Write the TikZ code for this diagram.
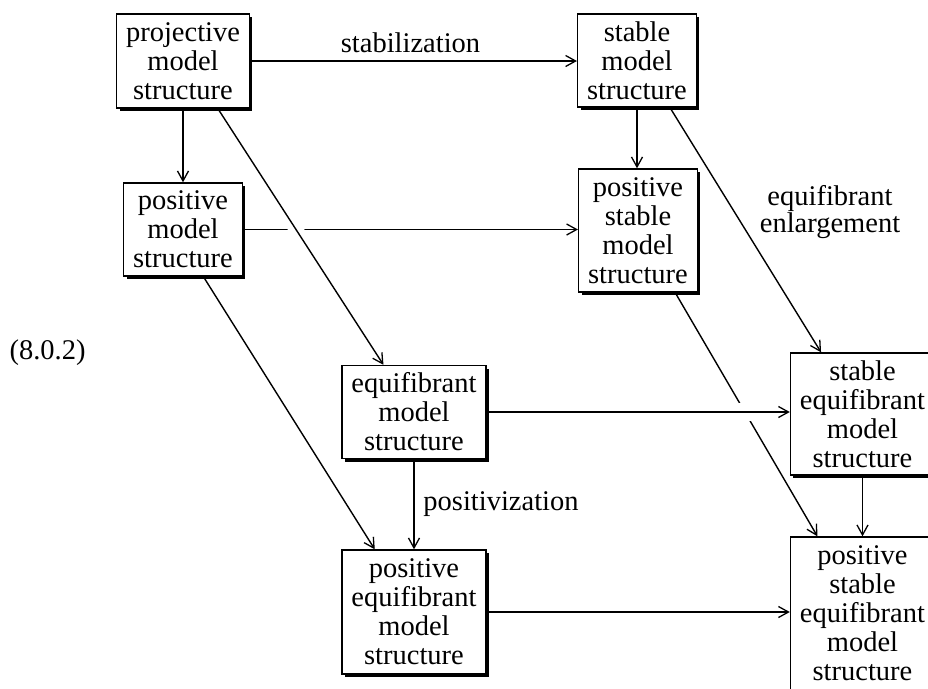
\documentclass[tikz,border=0pt]{standalone}
\usepackage{fontspec}
\setmainfont{Liberation Serif}
\usetikzlibrary{arrows.meta,shadows,calc}
\pgfdeclarelayer{bg}
\pgfsetlayers{bg,main}
\tikzset{
  box/.style={draw=black, line width=1.4pt, fill=white, rectangle, align=center,
    inner xsep=9.5pt, inner ysep=0pt,
    font=\fontsize{28.5}{29}\selectfont,
    drop shadow={shadow xshift=3pt, shadow yshift=-3pt, opacity=1, fill=black}},
  lbl/.style={inner sep=0pt, font=\fontsize{28.5}{27}\selectfont, align=center},
  arr/.style={line width=1.4pt, -{Straight Barb[length=10pt,width=11pt,line width=1.3pt]}},
  over/.style={preaction={draw=white, line width=#1, -}}
}
\begin{document}
\begin{tikzpicture}[x=1pt,y=-1pt]
\useasboundingbox (0,0) rectangle (928,688);
% boxes
\node[box, minimum height=94pt] (proj) at (183,61) {projective\\model\\structure};
\node[box, minimum height=93pt] (stab) at (637,60.5) {stable\\model\\structure};
\node[box, minimum height=93pt] (pos) at (183,229.5) {positive\\model\\structure};
\node[box, minimum height=123pt] (posstab) at (638,230.5) {positive\\stable\\model\\structure};
\node[box, minimum height=93pt] (equi) at (414,412) {equifibrant\\model\\structure};
\node[box, minimum height=122pt] (stabequi) at (862.5,414) {stable\\equifibrant\\model\\structure};
\node[box, minimum height=124pt] (posequi) at (414,612) {positive\\equifibrant\\model\\structure};
\node[box, minimum height=153pt] (posstabequi) at (862.5,613.5) {positive\\stable\\equifibrant\\model\\structure};
% labels
\node[lbl, anchor=base] (lstab) at (410.5,52) {stabilization};
\node[lbl, anchor=base] (lpos) at (501,510) {positivization};
\node[lbl] (lenl) at (830,212) {equifibrant\\enlargement};
\node[lbl, anchor=base] (eqno) at (47.5,359) {(8.0.2)};
% connectors
\begin{pgfonlayer}{bg}
\fill[white] (0,0) rectangle (928,688);
% lines that pass under
\draw[arr] (pos.east) -- (pos.east -| posstab.west);
\draw[arr] ($(posstab.south west)!0.81!(posstab.south east)$) -- ($(posstabequi.north west)!0.19!(posstabequi.north east)$);
% lines that pass over
\draw[arr, over=14pt] ($(proj.south west)!0.76!(proj.south east)$) -- ($(equi.north west)!0.29!(equi.north east)$);
\draw[arr, over=18pt] (equi.east) -- (equi.east -| stabequi.west);
% other lines
\draw[arr] (proj.east) -- (proj.east -| stab.west);
\draw[arr] (proj.south) -- (proj.south |- pos.north);
\draw[arr] (stab.south) -- (stab.south |- posstab.north);
\draw[arr] ($(stab.south west)!0.775!(stab.south east)$) -- ($(stabequi.north west)!0.215!(stabequi.north east)$);
\draw[arr] ($(pos.south west)!0.67!(pos.south east)$) -- ($(posequi.north west)!0.23!(posequi.north east)$);
\draw[arr] (equi.south) -- (posequi.north);
\draw[arr] (stabequi.south) -- (stabequi.south |- posstabequi.north);
\draw[arr] (posequi.east) -- (posequi.east -| posstabequi.west);
\end{pgfonlayer}
\end{tikzpicture}
\end{document}
